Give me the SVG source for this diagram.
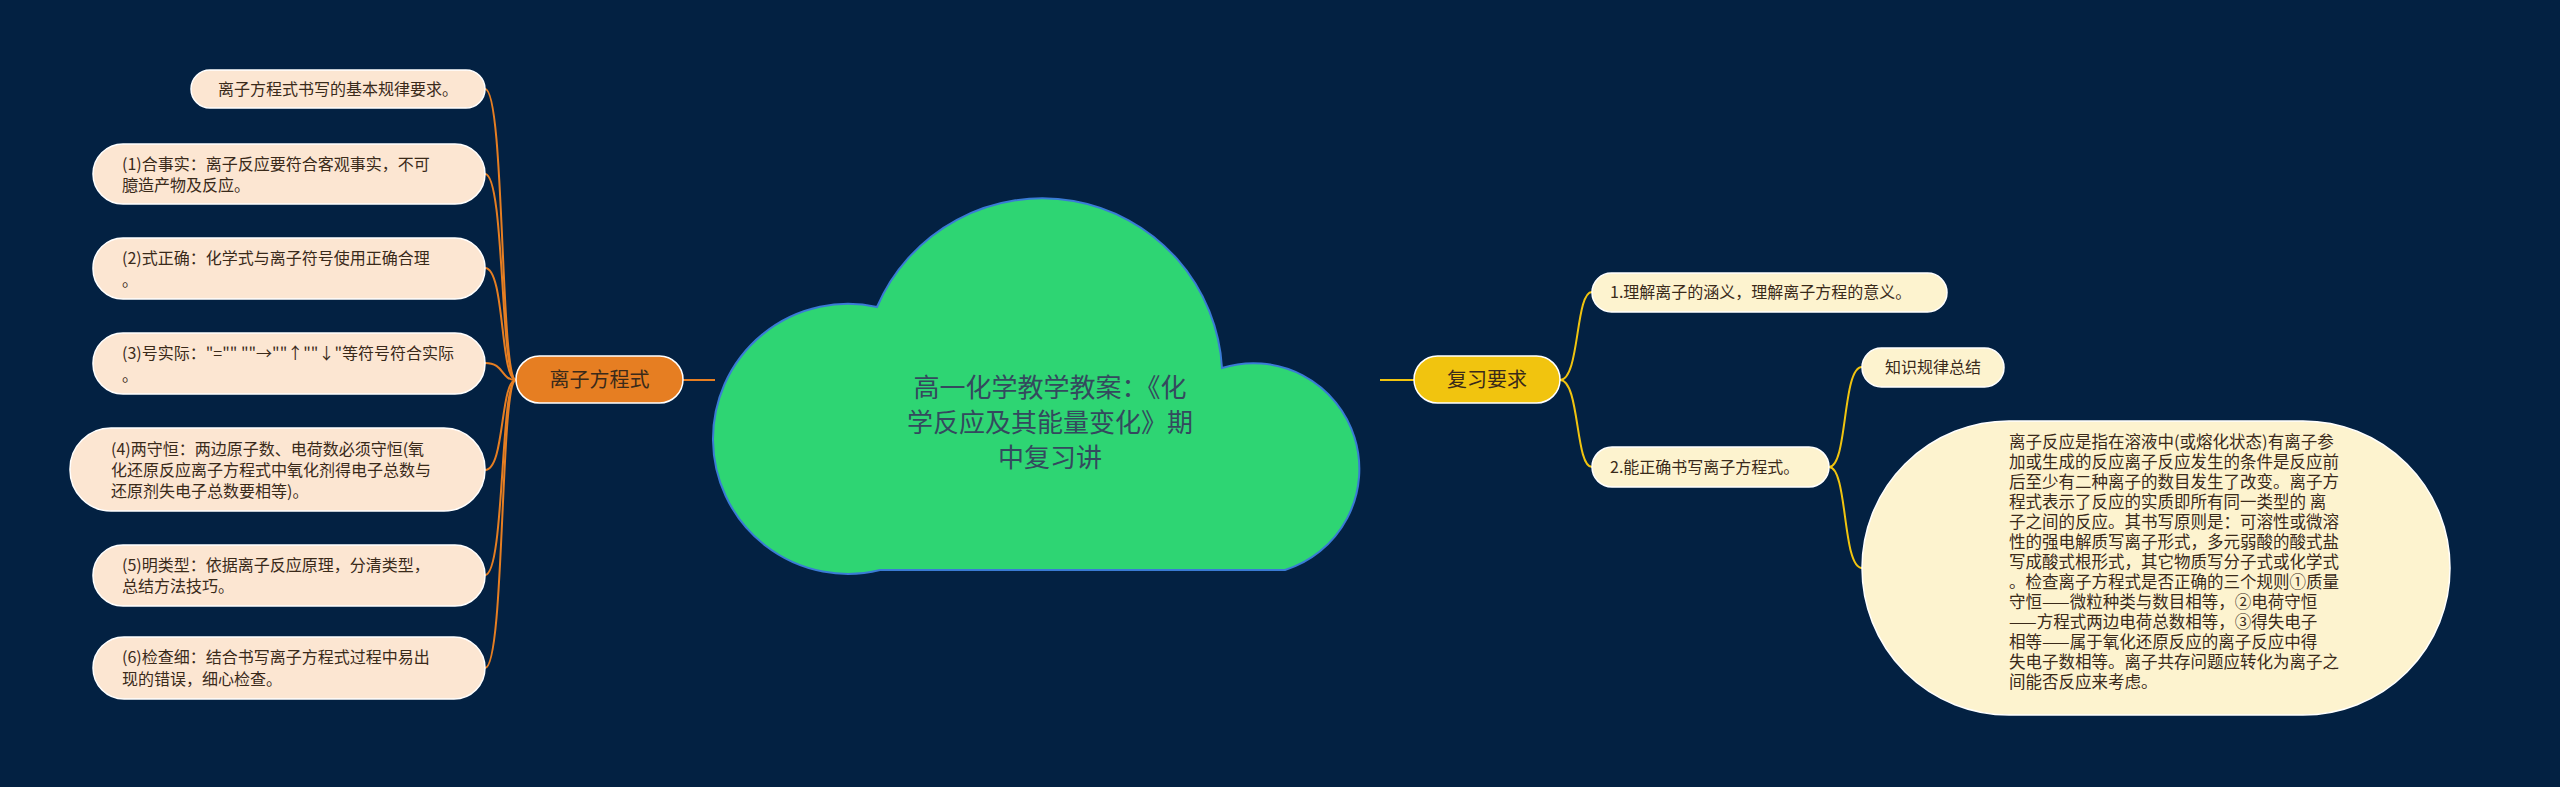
<svg xmlns="http://www.w3.org/2000/svg" width="2560" height="787" viewBox="0 0 2560 787">
<style>
text{font-family:"Noto Sans CJK SC","Liberation Sans",sans-serif;}
.lt{fill:#FCE6D2;stroke:#ffffff;stroke-width:1.5}
.lx{font-size:16px;fill:#3a2a1a}
.rt{fill:#FDF3CF;stroke:#ffffff;stroke-width:1.5}
.oc{fill:none;stroke:#E67E22;stroke-width:2}
.yc{fill:none;stroke:#F1C40F;stroke-width:2}
</style>
<rect width="2560" height="787" fill="#032142"/>
<g id="connectors">
<path class="oc" d="M683,380 L715,380"/>
<path class="oc" d="M516,380 C500,380 505,89 485,89"/>
<path class="oc" d="M516,380 C500,380 505,174 485,174"/>
<path class="oc" d="M516,380 C500,380 505,268 485,268"/>
<path class="oc" d="M516,380 C500,380 505,363 485,363"/>
<path class="oc" d="M516,380 C500,380 505,470 485,470"/>
<path class="oc" d="M516,380 C500,380 505,575 485,575"/>
<path class="oc" d="M516,380 C500,380 505,668 485,668"/>
<path class="yc" d="M1380,380 L1414,380"/>
<path class="yc" d="M1560,380 C1580,380 1575,292 1592,292"/>
<path class="yc" d="M1560,380 C1580,380 1575,467 1592,467"/>
<path class="yc" d="M1829,467 C1848,467 1842,367 1862,367"/>
<path class="yc" d="M1829,467 C1848,467 1842,568 1862,568"/>
</g>
<g id="center">
<path d="M880,570 A135,135 0 1 1 877,307 A180,180 0 0 1 1222,368 A104,104 0 1 1 1285,570 Z" fill="#2ED573" stroke="#3a7bd5" stroke-width="2"/>
<text x="1050" y="397" font-size="26" fill="#34495e" text-anchor="middle">高一化学教学教案：《化</text>
<text x="1050" y="432" font-size="26" fill="#34495e" text-anchor="middle">学反应及其能量变化》期</text>
<text x="1050" y="467" font-size="26" fill="#34495e" text-anchor="middle">中复习讲</text>
</g>
<g id="left-main">
<rect x="516" y="356" width="167" height="47" rx="23.5" fill="#E67E22" stroke="#ffffff" stroke-width="1.5"/>
<text x="599.5" y="387" font-size="20" fill="#3a2a1a" text-anchor="middle">离子方程式</text>
</g>
<g id="l1"><rect class="lt" x="191" y="70" width="294" height="38" rx="19"/><text class="lx" x="338" y="95" text-anchor="middle">离子方程式书写的基本规律要求。</text></g>
<g id="l2"><rect class="lt" x="93" y="144" width="392" height="60" rx="30"/><text class="lx" x="122" y="170">(1)合事实：离子反应要符合客观事实，不可</text><text class="lx" x="122" y="191">臆造产物及反应。</text></g>
<g id="l3"><rect class="lt" x="93" y="238" width="392" height="61" rx="30"/><text class="lx" x="122" y="264">(2)式正确：化学式与离子符号使用正确合理</text><text class="lx" x="122" y="286">。</text></g>
<g id="l4"><rect class="lt" x="93" y="333" width="392" height="61" rx="30"/><text class="lx" x="122" y="359">(3)号实际："="" ""→""↑""↓"等符号符合实际</text><text class="lx" x="122" y="381">。</text></g>
<g id="l5"><rect class="lt" x="70" y="428" width="415" height="83" rx="41"/><text class="lx" x="111" y="455">(4)两守恒：两边原子数、电荷数必须守恒(氧</text><text class="lx" x="111" y="476">化还原反应离子方程式中氧化剂得电子总数与</text><text class="lx" x="111" y="497">还原剂失电子总数要相等)。</text></g>
<g id="l6"><rect class="lt" x="93" y="545" width="392" height="61" rx="30"/><text class="lx" x="122" y="571">(5)明类型：依据离子反应原理，分清类型，</text><text class="lx" x="122" y="592">总结方法技巧。</text></g>
<g id="l7"><rect class="lt" x="93" y="637" width="392" height="62" rx="31"/><text class="lx" x="122" y="663">(6)检查细：结合书写离子方程式过程中易出</text><text class="lx" x="122" y="685">现的错误，细心检查。</text></g>
<g id="right-main">
<rect x="1414" y="356" width="146" height="47" rx="23.5" fill="#F1C40F" stroke="#ffffff" stroke-width="1.5"/>
<text x="1487" y="387" font-size="20" fill="#3a2a1a" text-anchor="middle">复习要求</text>
</g>
<g id="r1"><rect class="rt" x="1592" y="273" width="355" height="39" rx="19.5"/><text class="lx" x="1610" y="298">1.理解离子的涵义，理解离子方程的意义。</text></g>
<g id="r2"><rect class="rt" x="1592" y="447" width="237" height="40" rx="20"/><text class="lx" x="1610" y="473">2.能正确书写离子方程式。</text></g>
<g id="r3"><rect class="rt" x="1862" y="348" width="142" height="39" rx="19.5"/><text class="lx" x="1933" y="373" text-anchor="middle">知识规律总结</text></g>
<g id="r4">
<rect class="rt" x="1862" y="421" width="588" height="294" rx="147"/>
<g font-size="16.5" fill="#3a2a1a">
<text x="2009" y="448">离子反应是指在溶液中(或熔化状态)有离子参</text>
<text x="2009" y="468">加或生成的反应离子反应发生的条件是反应前</text>
<text x="2009" y="488">后至少有二种离子的数目发生了改变。离子方</text>
<text x="2009" y="508">程式表示了反应的实质即所有同一类型的 离</text>
<text x="2009" y="528">子之间的反应。其书写原则是：可溶性或微溶</text>
<text x="2009" y="548">性的强电解质写离子形式，多元弱酸的酸式盐</text>
<text x="2009" y="568">写成酸式根形式，其它物质写分子式或化学式</text>
<text x="2009" y="588">。检查离子方程式是否正确的三个规则①质量</text>
<text x="2009" y="608">守恒——微粒种类与数目相等，②电荷守恒</text>
<text x="2009" y="628">——方程式两边电荷总数相等，③得失电子</text>
<text x="2009" y="648">相等——属于氧化还原反应的离子反应中得</text>
<text x="2009" y="668">失电子数相等。离子共存问题应转化为离子之</text>
<text x="2009" y="688">间能否反应来考虑。</text>
</g>
</g>
</svg>
